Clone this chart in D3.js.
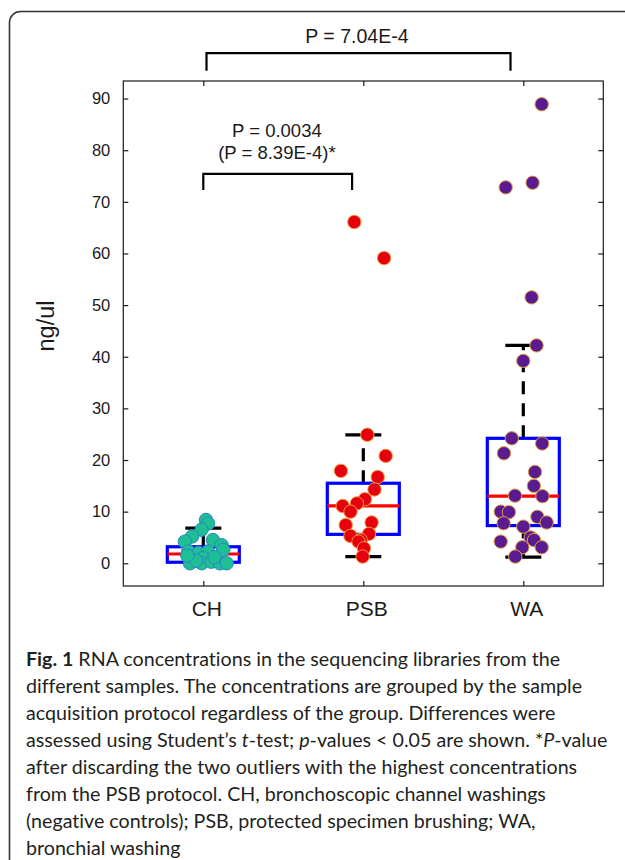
<!DOCTYPE html>
<html>
<head>
<meta charset="utf-8">
<script src="https://cdn.jsdelivr.net/npm/d3@7"></script>
<style>
  html, body { margin: 0; padding: 0; background: #ffffff; }
  svg { display: block; }
  .caption text { font-variant-ligatures: none; font-feature-settings: "liga" 0, "clig" 0; }
</style>
</head>
<body>
<svg id="chart" width="625" height="860"></svg>
<script>
// ---------------- DATA ----------------
const categories = ["CH", "PSB", "WA"];
const yTicks = [0, 10, 20, 30, 40, 50, 60, 70, 80, 90];
const yLabel = "ng/ul";

// values (ng/ul)
const chValues  = [8.4, 7.7, 6.5, 5.2, 4.2, 4.5, 3.5, 2.6, 2.3, 2.0, 2.3, 1.0, 0.0, 0.0, 0.3, 0.0, 0.0, 0.5, 1.2, 1.5];
const chJitter  = [0.017, 0.03, -0.011, -0.07, -0.115, 0.06, 0.115, 0.125, -0.094, -0.03, 0.03, 0.0, -0.083, -0.01, 0.05, 0.104, 0.146, -0.045, 0.07, -0.1];
const psbValues = [66.1, 59.1, 24.9, 20.8, 17.9, 16.7, 14.3, 12.4, 11.6, 11.1, 10.0, 7.4, 7.9, 5.3, 5.7, 4.5, 4.2, 2.9, 1.3];
const psbJitter = [-0.056, 0.13, 0.025, 0.14, -0.14, 0.09, 0.07, 0.01, -0.04, -0.129, -0.08, -0.11, 0.052, -0.08, 0.036, -0.016, -0.03, 0.004, -0.004];
const waValues  = [88.9, 72.8, 73.7, 51.5, 42.2, 39.2, 24.2, 23.2, 21.3, 17.7, 15.0, 13.1, 13.0, 10.0, 9.9, 7.75, 7.1, 9.0, 7.9, 4.2, 5.0, 4.5, 3.1, 3.1, 1.3];
const waJitter  = [0.115, -0.11, 0.058, 0.052, 0.083, 0.0, -0.072, 0.118, -0.121, 0.073, 0.066, -0.052, 0.12, -0.141, -0.09, -0.123, 0.0, 0.088, 0.146, -0.141, 0.046, 0.067, -0.006, 0.115, -0.05];

// box statistics
const boxQ1      = [0.2, 5.6, 7.3];
const boxMedian  = [1.8, 11.1, 13.0];
const boxQ3      = [3.2, 15.5, 24.2];
const whiskerLo  = [0.0, 1.3, 1.2];
const whiskerHi  = [6.8, 24.85, 42.2];

// significance annotations
const pLabels1 = ["P = 7.04E-4"];
const pLabels2 = ["P = 0.0034", "(P = 8.39E-4)*"];

const captionLines = [
  [{t: "Fig. 1", b: true}, {t: " RNA concentrations in the sequencing libraries from the"}],
  [{t: "different samples. The concentrations are grouped by the sample"}],
  [{t: "acquisition protocol regardless of the group. Differences were"}],
  [{t: "assessed using Student\u2019s "}, {t: "t", i: true}, {t: "-test; "}, {t: "p", i: true}, {t: "-values < 0.05 are shown. *"}, {t: "P", i: true}, {t: "-value"}],
  [{t: "after discarding the two outliers with the highest concentrations"}],
  [{t: "from the PSB protocol. CH, bronchoscopic channel washings"}],
  [{t: "(negative controls); PSB, protected specimen brushing; WA,"}],
  [{t: "bronchial washing"}]
];
const captionWidths = [541, 549, 529, 558, 552, 521, 490, 155];

// ---------------- LAYOUT / STYLE ----------------
const svg = d3.select("#chart");
const plot = {left: 123.3, right: 603.3, top: 81, bottom: 586};
const x = d3.scaleLinear().domain([0.5, 3.5]).range([plot.left, plot.right]);
const y = d3.scaleLinear().domain([-4.4, 93.4]).range([plot.bottom, plot.top]);
const chartFont = "'Liberation Sans', Arial, Helvetica, sans-serif";
const ink = "#1a1a1a";

const groups = [
  {values: chValues,  jitter: chJitter,  fill: "#1fbf96", stroke: "#2a86c0"},
  {values: psbValues, jitter: psbJitter, fill: "#e6000f", stroke: "#f29a3a"},
  {values: waValues,  jitter: waJitter,  fill: "#5a1b91", stroke: "#e0a040"}
];

// card border
svg.append("rect")
  .attr("x", 9.5).attr("y", 11.5)
  .attr("width", 660).attr("height", 900)
  .attr("rx", 11).attr("ry", 11)
  .attr("fill", "none").attr("stroke", "#333").attr("stroke-width", 1.6);

// axes frame
const g = svg.append("g");
g.append("rect")
  .attr("x", plot.left).attr("y", plot.top)
  .attr("width", plot.right - plot.left).attr("height", plot.bottom - plot.top)
  .attr("fill", "none").attr("stroke", ink).attr("stroke-width", 1.2);

// y axes (left labelled, right mirrored), ticks inward
const yAxisL = d3.axisLeft(y).tickValues(yTicks).tickSizeInner(-5).tickSizeOuter(0).tickPadding(13);
const gyL = g.append("g").attr("transform", `translate(${plot.left},0)`).call(yAxisL);
gyL.select(".domain").remove();
gyL.selectAll("line").attr("stroke", ink).attr("stroke-width", 1.2);
gyL.selectAll("text").attr("font-family", chartFont).attr("font-size", 16.5).attr("fill", ink);

const yAxisR = d3.axisRight(y).tickValues(yTicks).tickSizeInner(-5).tickSizeOuter(0).tickFormat("");
const gyR = g.append("g").attr("transform", `translate(${plot.right},0)`).call(yAxisR);
gyR.select(".domain").remove();
gyR.selectAll("line").attr("stroke", ink).attr("stroke-width", 1.2);

// x axes
const xAxisB = d3.axisBottom(x).tickValues([1, 2, 3]).tickSizeInner(-5).tickSizeOuter(0)
  .tickFormat((d) => categories[d - 1]).tickPadding(15);
const gxB = g.append("g").attr("transform", `translate(0,${plot.bottom})`).call(xAxisB);
gxB.select(".domain").remove();
gxB.selectAll("line").attr("stroke", ink).attr("stroke-width", 1.2);
gxB.selectAll("text").attr("font-family", chartFont).attr("font-size", 21).attr("fill", ink).attr("dx", 3);

const xAxisT = d3.axisTop(x).tickValues([1, 2, 3]).tickSizeInner(-5).tickSizeOuter(0).tickFormat("");
const gxT = g.append("g").attr("transform", `translate(0,${plot.top})`).call(xAxisT);
gxT.select(".domain").remove();
gxT.selectAll("line").attr("stroke", ink).attr("stroke-width", 1.2);

// y label
svg.append("text")
  .attr("transform", `translate(54,326) rotate(-90)`)
  .attr("text-anchor", "middle")
  .attr("font-family", chartFont).attr("font-size", 23.5).attr("fill", ink)
  .text(yLabel);

// boxes
const boxHalf = 36 / 160;   // in category units
const capHalf = 18 / 160;
categories.forEach((c, i) => {
  const cx = i + 1;
  const bg = g.append("g");
  bg.append("line")
    .attr("x1", x(cx)).attr("x2", x(cx))
    .attr("y1", y(boxQ3[i])).attr("y2", y(whiskerHi[i]))
    .attr("stroke", "#000").attr("stroke-width", 3.2).attr("stroke-dasharray", "13,9");
  bg.append("line")
    .attr("x1", x(cx)).attr("x2", x(cx))
    .attr("y1", y(boxQ1[i])).attr("y2", y(whiskerLo[i]))
    .attr("stroke", "#000").attr("stroke-width", 3.2).attr("stroke-dasharray", "13,9");
  [whiskerHi[i], whiskerLo[i]].forEach((w) => {
    bg.append("line")
      .attr("x1", x(cx - capHalf)).attr("x2", x(cx + capHalf))
      .attr("y1", y(w)).attr("y2", y(w))
      .attr("stroke", "#000").attr("stroke-width", 3.2);
  });
  bg.append("rect")
    .attr("x", x(cx - boxHalf)).attr("y", y(boxQ3[i]))
    .attr("width", x(cx + boxHalf) - x(cx - boxHalf))
    .attr("height", y(boxQ1[i]) - y(boxQ3[i]))
    .attr("fill", "none").attr("stroke", "#0000ff").attr("stroke-width", 3.2);
  bg.append("line")
    .attr("x1", x(cx - boxHalf)).attr("x2", x(cx + boxHalf))
    .attr("y1", y(boxMedian[i])).attr("y2", y(boxMedian[i]))
    .attr("stroke", "#ff0000").attr("stroke-width", 3.2);
});

// points
groups.forEach((grp, i) => {
  g.append("g").selectAll("circle")
    .data(grp.values.map((v, k) => ({v, j: grp.jitter[k]})))
    .join("circle")
    .attr("cx", (d) => x(i + 1 + d.j))
    .attr("cy", (d) => y(d.v))
    .attr("r", 6.7)
    .attr("fill", grp.fill)
    .attr("stroke", grp.stroke)
    .attr("stroke-width", 1);
});

// significance brackets
function bracket(x0, x1, yTop, yLeg) {
  svg.append("path")
    .attr("d", `M${x(x0)},${y(yLeg)} L${x(x0)},${y(yTop)} L${x(x1)},${y(yTop)} L${x(x1)},${y(yLeg)}`)
    .attr("fill", "none").attr("stroke", "#000").attr("stroke-width", 2.2);
}
bracket(1.02, 2.92, 98.8, 95.4);
bracket(1.0, 1.93, 75.4, 72.3);

svg.append("text")
  .attr("x", x(1.96)).attr("y", y(100.8))
  .attr("text-anchor", "middle")
  .attr("font-family", chartFont).attr("font-size", 19.5).attr("fill", ink)
  .text(pLabels1[0]);

pLabels2.forEach((t, k) => {
  svg.append("text")
    .attr("x", x(1.46)).attr("y", y(82.6) + k * 22.5)
    .attr("text-anchor", "middle")
    .attr("font-family", chartFont).attr("font-size", 18.5).attr("fill", ink)
    .text(t);
});

// caption: one font size fitted so the lines span the widths seen in the picture
const capFont = "Lato, 'Open Sans', sans-serif";
const cap = svg.append("g").attr("class", "caption");
const capTexts = captionLines.map((line, k) => {
  const t = cap.append("text")
    .attr("x", 26).attr("y", 666 + k * 27)
    .attr("font-family", capFont)
    .attr("font-size", 20).attr("fill", "#231f20");
  line.forEach((seg) => {
    t.append("tspan")
      .attr("font-weight", seg.b ? 700 : 400)
      .attr("font-style", seg.i ? "italic" : "normal")
      .text(seg.t);
  });
  return t;
});
const ratios = capTexts.map((t, k) => captionWidths[k] / t.node().getComputedTextLength());
const fit = d3.median(ratios);
capTexts.forEach((t) => t.attr("font-size", 20 * fit));
</script>
</body>
</html>
